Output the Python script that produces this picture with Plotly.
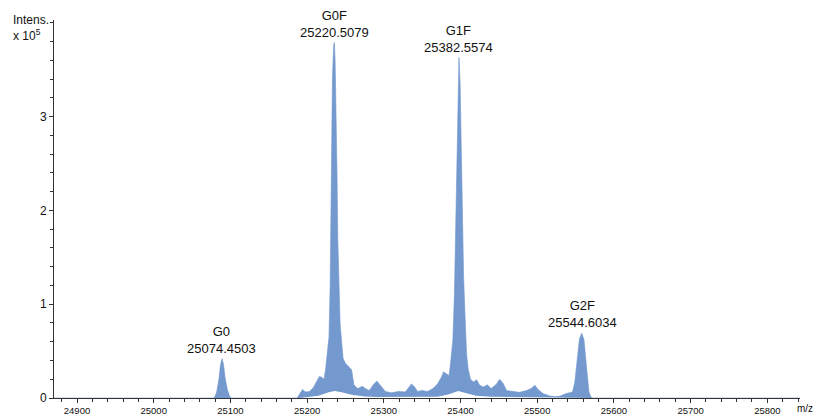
import plotly.graph_objects as go

# Upper envelope of the spectrum (m/z, intensity x 1e5)
mz_upper = [24870, 25079, 25082, 25085, 25087, 25089, 25091, 25093, 25096, 25099, 25101,
            25187, 25190, 25194, 25198, 25203, 25208, 25213, 25216, 25219, 25222, 25224,
            25226, 25228.5, 25230, 25231, 25232, 25233, 25234.5, 25235.5, 25236.5, 25238,
            25239, 25240, 25241.5, 25243, 25245, 25247, 25250, 25254, 25258, 25261, 25266,
            25272, 25276, 25281, 25287, 25291, 25296, 25302, 25310, 25319, 25328, 25336,
            25340, 25344, 25350, 25357, 25364, 25370, 25375, 25378, 25381, 25385, 25387,
            25390, 25392, 25393.5, 25395, 25396.5, 25398, 25399.5, 25401, 25402.5, 25404,
            25406, 25408, 25410, 25413, 25417, 25421, 25425, 25430, 25435, 25440, 25447,
            25451, 25456, 25460, 25469, 25477, 25486, 25492, 25497, 25501, 25508, 25517,
            25524, 25530, 25537, 25541, 25546, 25549, 25552, 25555, 25558, 25561, 25563,
            25565, 25567.5, 25570, 25572, 25843]
int_upper = [0, 0, 0.06, 0.2, 0.35, 0.42, 0.36, 0.22, 0.09, 0.02, 0,
             0, 0.04, 0.09, 0.065, 0.07, 0.11, 0.19, 0.23, 0.22, 0.2, 0.3,
             0.45, 0.65, 1.2, 2.0, 2.8, 3.4, 3.75, 3.79, 3.6, 3.0,
             2.4, 1.7, 1.1, 0.8, 0.6, 0.42, 0.37, 0.33, 0.3, 0.14, 0.1,
             0.125, 0.1, 0.08, 0.15, 0.18, 0.13, 0.07, 0.055, 0.07, 0.065, 0.15,
             0.12, 0.07, 0.08, 0.07, 0.1, 0.15, 0.22, 0.28, 0.26, 0.24, 0.37,
             0.62, 1.1, 1.8, 2.6, 3.3, 3.63, 3.35, 2.7, 1.9, 1.3,
             0.85, 0.46, 0.31, 0.2, 0.17, 0.195, 0.135, 0.117, 0.14, 0.1, 0.15,
             0.2, 0.15, 0.08, 0.07, 0.06, 0.08, 0.1, 0.135, 0.09, 0.046, 0.02,
             0.015, 0.02, 0.046, 0.053, 0.064, 0.17, 0.42, 0.63, 0.69, 0.62, 0.44,
             0.24, 0.064, 0.01, 0, 0]

# Lower envelope (minimum of the rapidly oscillating trace)
mz_lower = [25190, 25200, 25215, 25228, 25236, 25245, 25258, 25275, 25290, 25370,
            25385, 25397, 25408, 25420, 25440, 25540, 25570]
int_lower = [0, 0.01, 0.025, 0.06, 0.075, 0.06, 0.035, 0.015, 0.01, 0.012,
             0.04, 0.075, 0.05, 0.025, 0.012, 0.008, 0]

# Peak labels
peak_names = ["G0", "G0F", "G1F", "G2F"]
peak_masses = ["25074.4503", "25220.5079", "25382.5574", "25544.6034"]
peak_mz = [25089, 25235.3, 25398, 25558.5]
peak_int = [0.42, 3.79, 3.63, 0.69]

blue = "rgb(115,153,207)"
font_family = "Liberation Sans, Arial, Helvetica, sans-serif"

fig = go.Figure()
fig.add_trace(go.Scatter(x=mz_upper, y=int_upper, mode="lines", fill="tozeroy",
                         line=dict(color=blue, width=0.6), fillcolor=blue,
                         hoverinfo="skip", showlegend=False))
fig.add_trace(go.Scatter(x=mz_lower, y=int_lower, mode="lines", fill="tozeroy",
                         line=dict(color="white", width=0), fillcolor="white",
                         hoverinfo="skip", showlegend=False))

for name, mass, mx, my in zip(peak_names, peak_masses, peak_mz, peak_int):
    fig.add_annotation(x=mx, y=my, text=f"{name}<br>{mass}", showarrow=False,
                       xanchor="center", yanchor="bottom", yshift=1,
                       font=dict(size=13, color="#111", family=font_family))

fig.add_annotation(xref="paper", yref="paper", x=0, y=1.0, xanchor="right", yanchor="middle",
                   text="Intens.<br>x 10<sup>5</sup>", showarrow=False, align="left",
                   xshift=-3, yshift=-8,
                   font=dict(size=12, color="#111", family=font_family))
fig.add_annotation(xref="paper", yref="paper", x=1.0, y=0, xanchor="right", yanchor="top",
                   text="m/z", showarrow=False, xshift=15, yshift=-3,
                   font=dict(size=10, color="#111", family=font_family))

fig.update_layout(
    width=816, height=416,
    margin=dict(l=54, r=16, t=20, b=18),
    paper_bgcolor="white", plot_bgcolor="white",
    font=dict(family=font_family, color="#111"),
    xaxis=dict(range=[24870, 25842.6], tickmode="linear", tick0=24900, dtick=100,
               tickformat="d", automargin=False,
               ticks="outside", ticklen=4, tickwidth=1, tickcolor="#333",
               showline=True, linecolor="#333", linewidth=1, showgrid=False,
               zeroline=False, tickfont=dict(size=9.5),
               minor=dict(dtick=20, ticks="outside", ticklen=3, tickcolor="#333", showgrid=False)),
    yaxis=dict(range=[0, 4.03], tickmode="array", tickvals=[0, 1, 2, 3], automargin=False,
               ticks="outside", ticklen=4, tickwidth=1, tickcolor="#333",
               showline=True, linecolor="#333", linewidth=1, showgrid=False,
               zeroline=False, tickfont=dict(size=12),
               minor=dict(dtick=0.2, ticks="outside", ticklen=3, tickcolor="#333", showgrid=False)),
)

fig.write_html("out.html")
